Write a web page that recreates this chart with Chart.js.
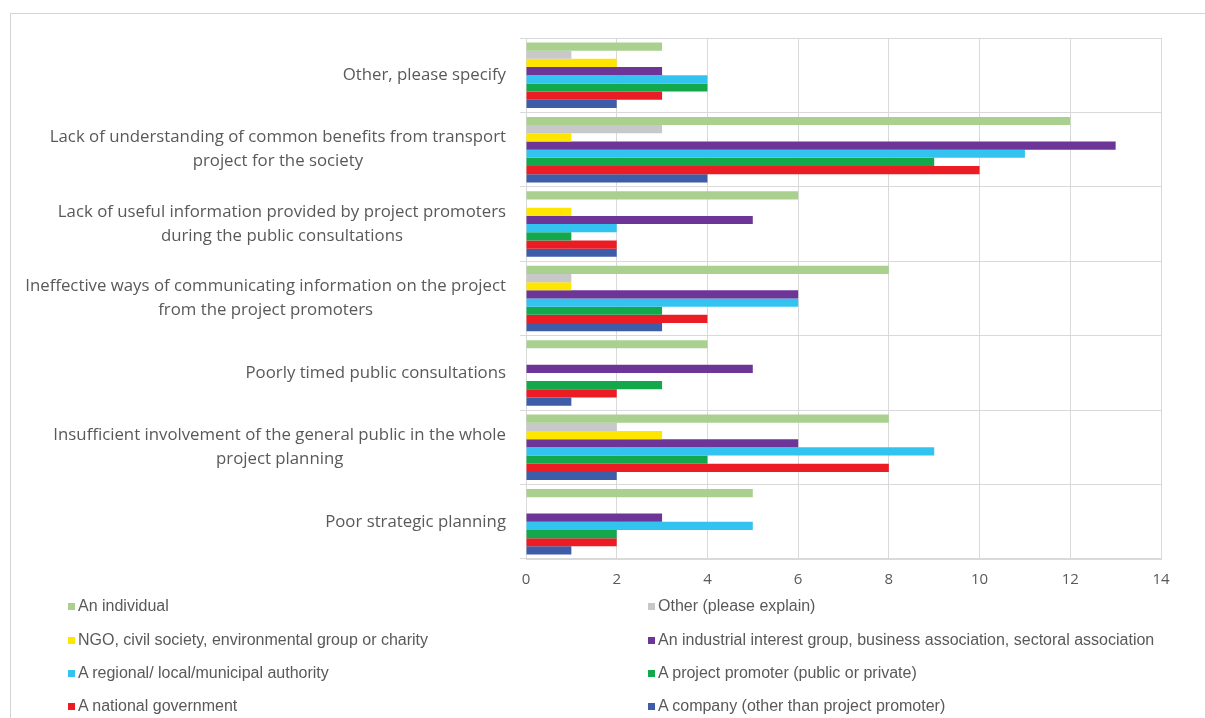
<!DOCTYPE html>
<html>
<head>
<meta charset="utf-8">
<script src="https://cdn.jsdelivr.net/npm/chart.js@4.4.1/dist/chart.umd.min.js"></script>
<style>
  body { margin: 0; background: #fff; }
  #frame { position: absolute; left: 10px; top: 13px; width: 1195px; height: 705px;
           border-left: 1px solid #d4d4d4; border-top: 1px solid #d4d4d4; }
  #wrap { position: absolute; left: 0; top: 0; width: 1205px; height: 601px; }
  #legende { position: absolute; left: 0; top: 590px; width: 1205px; height: 128px;
             font-family: "Liberation Sans Narrow", "Liberation Sans", sans-serif; font-size: 16px; color: #595959; }
  .item { position: absolute; white-space: nowrap; line-height: 20px; }
  .item span.box { display: inline-block; width: 7px; height: 7px; margin-right: 3px; vertical-align: 1px; }
</style>
</head>
<body>
<div id="frame"></div>
<div id="wrap"><canvas id="graph"></canvas></div>
<div id="legende"></div>
<script>
// Catégories (de haut en bas)
const categories = [
  ["Other, please specify"],
  ["Lack of understanding of common benefits from transport", "project for the society"],
  ["Lack of useful information provided by project promoters", "during the public consultations"],
  ["Ineffective ways of communicating information on the project", "from the project promoters"],
  ["Poorly timed public consultations"],
  ["Insufficient involvement of the general public in the whole", "project planning"],
  ["Poor strategic planning"]
];

// Séries (ordre de haut en bas dans chaque groupe)
const seriesNames = [
  "An individual",
  "Other (please explain)",
  "NGO, civil society, environmental group or charity",
  "An industrial interest group, business association, sectoral association",
  "A regional/ local/municipal authority",
  "A project promoter (public or private)",
  "A national government",
  "A company (other than project promoter)"
];
const seriesColors = ['#a9d08e', '#c8c8c8', '#ffe600', '#6c3597', '#33c3f0', '#12a84b', '#ec1c24', '#3d5da9'];

const individual = [3, 12, 6, 8, 4, 8, 5];
const otherExplain = [1, 3, 0, 1, 0, 2, 0];
const ngo = [2, 1, 1, 1, 0, 3, 0];
const industrial = [3, 13, 5, 6, 5, 6, 3];
const regional = [4, 11, 2, 6, 0, 9, 5];
const promoter = [4, 9, 1, 3, 3, 4, 2];
const national = [3, 10, 2, 4, 2, 8, 2];
const company = [2, 4, 2, 3, 1, 2, 1];
const seriesValues = [individual, otherExplain, ngo, industrial, regional, promoter, national, company];

const xTicks = [0, 2, 4, 6, 8, 10, 12, 14];

const labelFont = '16.8px "Open Sans", sans-serif';
const textColor = '#595959';
const gridColor = '#d9d9d9';

// Libellés des catégories : lignes centrées entre elles, bloc aligné à droite
const categoryLabels = {
  id: 'categoryLabels',
  afterDraw(chart) {
    const y = chart.scales.y;
    const ctx = chart.ctx;
    const right = chart.chartArea.left - 20;
    ctx.save();
    ctx.font = labelFont;
    ctx.fillStyle = textColor;
    ctx.textAlign = 'center';
    ctx.textBaseline = 'middle';
    categories.forEach((lines, i) => {
      const widest = Math.max(...lines.map(l => ctx.measureText(l).width));
      const cx = right - widest / 2;
      const cy = y.getPixelForTick(i);
      const lh = 24;
      lines.forEach((l, k) => {
        ctx.fillText(l, cx, cy + (k - (lines.length - 1) / 2) * lh);
      });
    });
    ctx.restore();
  }
};

const ctx = document.getElementById('graph').getContext('2d');
new Chart(ctx, {
  type: 'bar',
  data: {
    labels: categories.map(c => c.join(' ')),
    datasets: seriesNames.map((name, i) => ({
      label: name,
      data: seriesValues[i],
      backgroundColor: seriesColors[i],
      borderWidth: 0,
      barPercentage: 1,
      categoryPercentage: 0.88
    }))
  },
  options: {
    indexAxis: 'y',
    responsive: true,
    maintainAspectRatio: false,
    animation: false,
    layout: { padding: { top: 38, right: 44, left: 0, bottom: 0 } },
    plugins: {
      legend: { display: false },
      tooltip: { enabled: false }
    },
    scales: {
      x: {
        min: 0,
        max: 14,
        afterBuildTicks: scale => { scale.ticks = xTicks.map(v => ({ value: v })); },
        grid: { color: gridColor, drawTicks: false },
        border: { color: gridColor },
        ticks: {
          color: textColor,
          padding: 12,
          font: { family: '"Open Sans", sans-serif', size: 15 }
        }
      },
      y: {
        offset: true,
        afterFit: scale => { scale.width = 526; },
        grid: { offset: true, color: gridColor, tickLength: 6 },
        border: { color: gridColor },
        ticks: { display: false }
      }
    }
  },
  plugins: [categoryLabels]
});

// Légende sur deux colonnes
const legende = document.getElementById('legende');
const colX = [68, 648];
const rowY = [16, 50, 83, 116];
seriesNames.forEach((name, i) => {
  const div = document.createElement('div');
  div.className = 'item';
  div.style.left = colX[i % 2] + 'px';
  div.style.top = (rowY[Math.floor(i / 2)] - 10) + 'px';
  div.innerHTML = `<span class="box" style="background:${seriesColors[i]}"></span>${name}`;
  legende.appendChild(div);
});
</script>
</body>
</html>
